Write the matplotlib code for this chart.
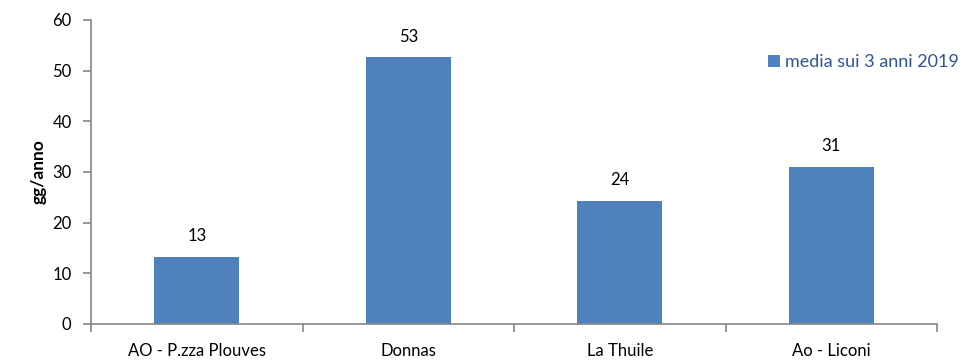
import matplotlib
matplotlib.use("Agg")
import matplotlib.pyplot as plt
import numpy as np

categories = ["AO - P.zza Plouves", "Donnas", "La Thuile", "Ao - Liconi"]
values = [13.3, 52.6, 24.3, 31.0]
labels = ["13", "53", "24", "31"]
series_name = "media sui 3 anni 2019"
ylabel = "gg/anno"

plt.rcParams['font.family'] = ['Lato', 'DejaVu Sans']

fig = plt.figure(figsize=(9.65, 3.61), dpi=100)
ax = fig.add_axes([0.0943, 0.1025, 0.971 - 0.0943, 0.9446 - 0.1025])

x = np.arange(len(categories))
bars = ax.bar(x, values, width=0.40, color="#4F81BD", label=series_name, zorder=2)

for xi, v, lab in zip(x, values, labels):
    ax.annotate(lab, (xi, v), xytext=(0, 9), textcoords="offset points",
                ha="center", va="bottom", fontsize=12, color="black")

ax.set_xlim(-0.5, len(categories) - 0.5)
ax.set_ylim(0, 60)
ax.set_yticks(range(0, 61, 10))
ax.set_xticks(x)
ax.set_xticklabels(categories, fontsize=12)
ax.set_xticks(np.arange(-0.5, len(categories), 1), minor=True)
ax.tick_params(axis='x', which='major', length=0, pad=14)
ax.tick_params(axis='x', which='minor', length=6, color="#868686", width=1.2)
ax.tick_params(axis='y', length=6, color="#868686", width=1.2, labelsize=12, pad=8)

for s in ["top", "right"]:
    ax.spines[s].set_visible(False)
for s in ["left", "bottom"]:
    ax.spines[s].set_color("#868686")
    ax.spines[s].set_linewidth(1.2)

ax.set_ylabel(ylabel, fontsize=12.5, fontweight="bold", labelpad=4)

leg = ax.legend(loc="upper right", bbox_to_anchor=(1.045, 0.94), frameon=False,
                fontsize=13, handlelength=0.65, handleheight=0.7, handletextpad=0.3)
for t in leg.get_texts():
    t.set_color("#2F5597")

fig.savefig("out.png", dpi=100)
